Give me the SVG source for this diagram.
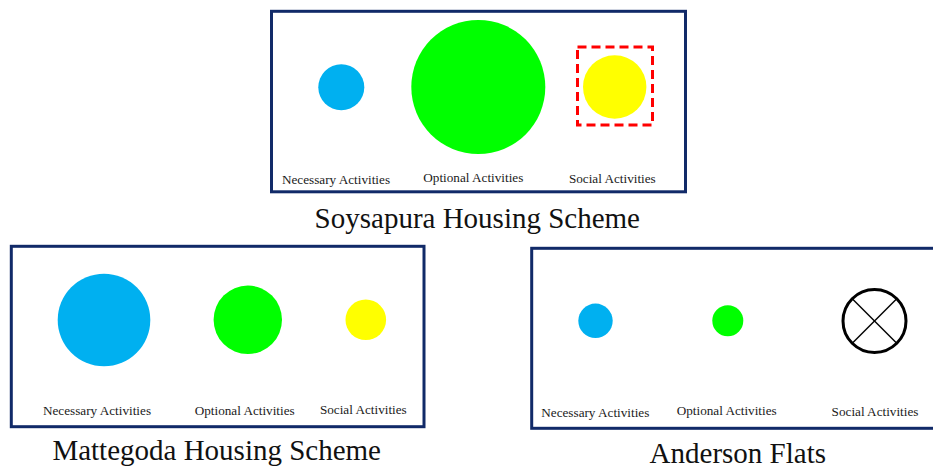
<svg xmlns="http://www.w3.org/2000/svg" width="933" height="468" viewBox="0 0 933 468">
<style>
.frame{fill:#ffffff;stroke:#112a68;stroke-width:3}
.lbl{font-family:"Liberation Serif","Times New Roman",serif;font-size:13.2px;fill:#1a1a1a;text-anchor:middle}
.ttl{font-family:"Liberation Serif","Times New Roman",serif;font-size:29px;fill:#111111;text-anchor:middle}
.nec{fill:#00B0F0}
.opt{fill:#00FF00}
.soc{fill:#FFFF00}
</style>
<rect width="933" height="468" fill="#ffffff"/>
<g id="soysapura">
<rect class="frame" x="271.5" y="11.3" width="414" height="180.5"/>
<circle class="nec" cx="341.3" cy="87.3" r="23"/>
<circle class="opt" cx="478.3" cy="87" r="67"/>
<circle class="soc" cx="614.7" cy="87" r="31.7"/>
<rect x="577.5" y="47" width="75" height="78" fill="none" stroke="#FF0000" stroke-width="3" stroke-dasharray="9,5"/>
<text class="lbl" x="336" y="183.5">Necessary Activities</text>
<text class="lbl" x="473.3" y="181.5">Optional Activities</text>
<text class="lbl" x="612.3" y="182.5">Social Activities</text>
<text class="ttl" x="477.3" y="228">Soysapura Housing Scheme</text>
</g>
<g id="mattegoda">
<rect class="frame" x="11.3" y="246.3" width="412.7" height="180.4"/>
<circle class="nec" cx="104" cy="320" r="46.3"/>
<circle class="opt" cx="247.8" cy="319.8" r="34.2"/>
<circle class="soc" cx="365.8" cy="319.8" r="20.3"/>
<text class="lbl" x="97" y="414.5">Necessary Activities</text>
<text class="lbl" x="244.7" y="414.5">Optional Activities</text>
<text class="lbl" x="363.3" y="413.5">Social Activities</text>
<text class="ttl" x="216.7" y="460">Mattegoda Housing Scheme</text>
</g>
<g id="anderson">
<rect class="frame" x="531.7" y="248.3" width="410" height="180"/>
<circle class="nec" cx="595.5" cy="320.8" r="17.2"/>
<circle class="opt" cx="727.8" cy="320.7" r="15.5"/>
<circle cx="874.5" cy="321" r="31.5" fill="#ffffff" stroke="#000000" stroke-width="3"/>
<line x1="852.5" y1="299" x2="896.5" y2="343" stroke="#000000" stroke-width="1.5"/>
<line x1="896.5" y1="299" x2="852.5" y2="343" stroke="#000000" stroke-width="1.5"/>
<text class="lbl" x="595.3" y="416.7">Necessary Activities</text>
<text class="lbl" x="726.7" y="414.7">Optional Activities</text>
<text class="lbl" x="875" y="415.7">Social Activities</text>
<text class="ttl" x="737.8" y="462.7">Anderson Flats</text>
</g>
<g id="connectors"/>
</svg>
